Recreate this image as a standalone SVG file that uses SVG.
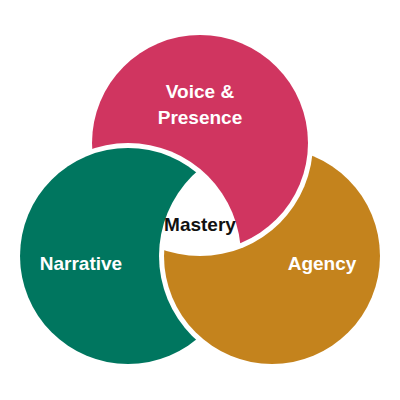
<svg xmlns="http://www.w3.org/2000/svg" width="400" height="400" viewBox="0 0 400 400">
  <style>
    .lbl { font-family: "Liberation Sans", Arial, sans-serif; font-weight: bold; font-size: 19px; text-anchor: middle; fill: #ffffff; }
    .center { fill: #111111; }
  </style>
  <defs>
    <mask id="cutByGreen" maskUnits="userSpaceOnUse" x="0" y="0" width="400" height="400">
      <rect x="0" y="0" width="400" height="400" fill="#fff"/>
      <circle cx="128" cy="256" r="113" fill="#000"/>
    </mask>
    <mask id="cutByOrange" maskUnits="userSpaceOnUse" x="0" y="0" width="400" height="400">
      <rect x="0" y="0" width="400" height="400" fill="#fff"/>
      <circle cx="272" cy="256" r="113" fill="#000"/>
    </mask>
    <mask id="cutByPink" maskUnits="userSpaceOnUse" x="0" y="0" width="400" height="400">
      <rect x="0" y="0" width="400" height="400" fill="#fff"/>
      <circle cx="200" cy="143" r="113" fill="#000"/>
    </mask>
  </defs>
  <rect x="0" y="0" width="400" height="400" fill="#ffffff"/>
  <g id="connectors"></g>
  <g id="voice-presence">
    <circle cx="200" cy="143" r="108" fill="#D03560" mask="url(#cutByGreen)"/>
    <text class="lbl" x="200" y="98">Voice &amp;</text>
    <text class="lbl" x="200" y="124">Presence</text>
  </g>
  <g id="narrative">
    <circle cx="128" cy="256" r="108" fill="#00765F" mask="url(#cutByOrange)"/>
    <text class="lbl" x="81" y="270">Narrative</text>
  </g>
  <g id="agency">
    <circle cx="272" cy="256" r="108" fill="#C4831D" mask="url(#cutByPink)"/>
    <text class="lbl" x="322" y="270">Agency</text>
  </g>
  <g id="mastery">
    <text class="lbl center" x="200" y="231">Mastery</text>
  </g>
</svg>
